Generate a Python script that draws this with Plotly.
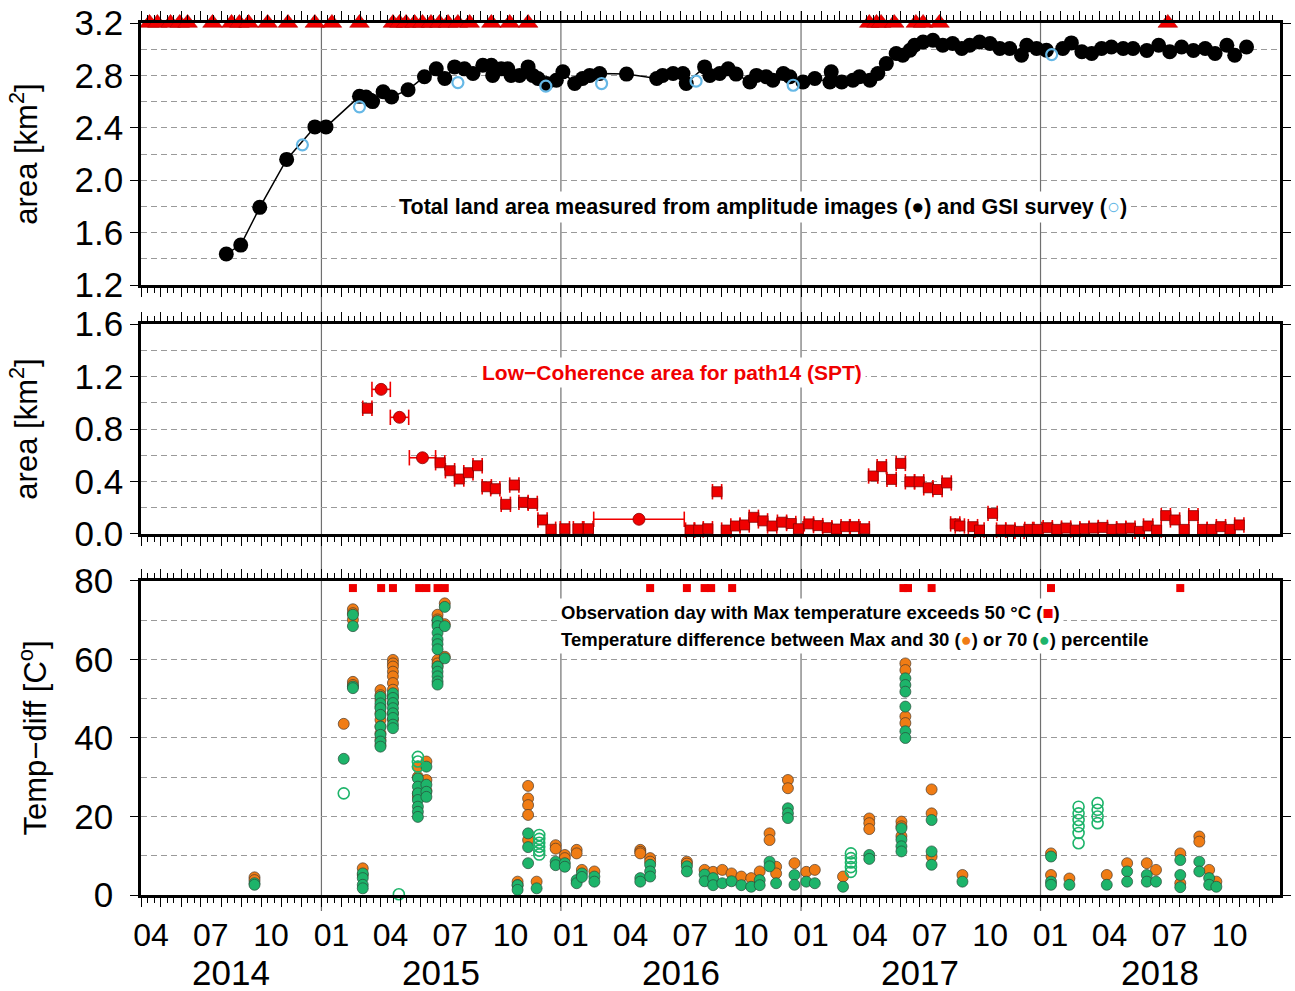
import plotly.graph_objects as go
from datetime import date, timedelta

# ---------------- total land area (km^2) ----------------
area_dates = [
    "2014-08-09", "2014-08-31", "2014-09-29", "2014-11-09", "2014-12-22", "2015-01-08",
    "2015-02-28", "2015-03-10", "2015-03-17", "2015-03-20", "2015-04-05", "2015-04-18",
    "2015-05-13", "2015-06-07", "2015-06-25", "2015-07-08", "2015-07-23", "2015-08-07",
    "2015-08-20", "2015-09-04", "2015-09-17", "2015-09-19", "2015-10-02", "2015-10-12",
    "2015-10-17", "2015-10-30", "2015-11-12", "2015-11-19", "2015-11-27", "2015-12-10",
    "2015-12-25", "2016-01-04", "2016-01-22", "2016-02-03", "2016-02-14", "2016-02-29",
    "2016-04-10", "2016-05-26", "2016-06-04", "2016-06-20", "2016-07-05", "2016-07-10",
    "2016-08-07", "2016-08-15", "2016-08-30", "2016-09-12", "2016-09-24", "2016-10-15",
    "2016-10-25", "2016-11-09", "2016-11-19", "2016-12-05", "2016-12-15", "2017-01-04",
    "2017-01-22", "2017-02-14", "2017-02-16", "2017-03-04", "2017-03-21", "2017-03-31",
    "2017-04-16", "2017-04-28", "2017-05-11", "2017-05-26", "2017-06-05", "2017-06-16",
    "2017-06-23", "2017-07-06", "2017-07-21", "2017-08-05", "2017-08-20", "2017-09-03",
    "2017-09-15", "2017-09-30", "2017-10-16", "2017-10-31", "2017-11-15", "2017-12-03",
    "2017-12-11", "2017-12-26", "2018-01-10", "2018-02-04", "2018-02-17", "2018-03-05",
    "2018-03-20", "2018-04-04", "2018-04-19", "2018-05-07", "2018-05-22", "2018-06-12",
    "2018-06-30", "2018-07-17", "2018-08-04", "2018-08-22", "2018-09-09", "2018-09-24",
    "2018-10-12", "2018-10-24", "2018-11-11",
]
area_km2 = [
    1.437, 1.505, 1.793, 2.159, 2.407, 2.407,
    2.640, 2.635, 2.610, 2.600, 2.675, 2.635,
    2.690, 2.790, 2.850, 2.776, 2.865, 2.850,
    2.815, 2.878, 2.878, 2.800, 2.850, 2.850,
    2.800, 2.800, 2.865, 2.800, 2.776, 2.738,
    2.763, 2.827, 2.738, 2.776, 2.800, 2.814,
    2.810, 2.776, 2.800, 2.814, 2.814, 2.738,
    2.865, 2.800, 2.814, 2.850, 2.810, 2.750,
    2.800, 2.790, 2.763, 2.814, 2.790, 2.750,
    2.776, 2.750, 2.827, 2.750, 2.763, 2.790,
    2.763, 2.814, 2.890, 2.967, 2.954, 2.992,
    3.030, 3.055, 3.068, 3.030, 3.043, 3.005,
    3.030, 3.055, 3.043, 3.005, 3.005, 2.954,
    3.030, 3.005, 2.992, 3.005, 3.048, 2.980,
    2.967, 3.005, 3.017, 3.005, 3.005, 2.990,
    3.030, 2.980, 3.017, 2.990, 3.005, 2.967,
    3.030, 2.954, 3.017,
]

# GSI survey
gsi_dates = ["2014-12-03", "2015-02-28", "2015-07-28", "2015-12-09",
             "2016-03-03", "2016-07-25", "2016-12-20", "2018-01-18"]
gsi_km2 = [2.27, 2.56, 2.745, 2.718, 2.738, 2.756, 2.725, 2.959]

# eruption days
eruption_dates = [
    "2014-04-14", "2014-04-26", "2014-05-16", "2014-05-30", "2014-06-11", "2014-07-19",
    "2014-08-17", "2014-08-29", "2014-09-12", "2014-10-11", "2014-11-11", "2014-12-22",
    "2015-01-17", "2015-02-28", "2015-04-20", "2015-04-30", "2015-05-10", "2015-05-23",
    "2015-06-04", "2015-06-17", "2015-06-30", "2015-07-13", "2015-07-28", "2015-08-15",
    "2015-09-17", "2015-10-15", "2015-11-12", "2017-04-15", "2017-04-26", "2017-05-03",
    "2017-05-23", "2017-06-25", "2017-07-06", "2017-07-31", "2018-07-14",
]

# ---------------- low-coherence area, path14 (SPT) ----------------
lc_dates = [
    "2015-03-12", "2015-04-02", "2015-04-30", "2015-06-04", "2015-07-01", "2015-07-16",
    "2015-07-30", "2015-08-13", "2015-08-27", "2015-09-10", "2015-09-23", "2015-10-09",
    "2015-10-22", "2015-11-05", "2015-11-19", "2015-12-04", "2015-12-17",
    "2016-01-07", "2016-01-27", "2016-02-12", "2016-04-29", "2016-07-16", "2016-07-29",
    "2016-08-12", "2016-08-26", "2016-09-09", "2016-09-23", "2016-10-07", "2016-10-21",
    "2016-11-04", "2016-11-18", "2016-12-03", "2016-12-17", "2016-12-28",
    "2017-01-13", "2017-01-27", "2017-02-10", "2017-02-24", "2017-03-10", "2017-03-23",
    "2017-04-08", "2017-04-21", "2017-05-04", "2017-05-19", "2017-06-02", "2017-06-16",
    "2017-06-30", "2017-07-14", "2017-07-28", "2017-08-11", "2017-08-24", "2017-08-31",
    "2017-09-20", "2017-09-30", "2017-10-20", "2017-11-02", "2017-11-16", "2017-11-30",
    "2017-12-15", "2017-12-27",
    "2018-01-12", "2018-01-26", "2018-02-09", "2018-02-23", "2018-03-09", "2018-03-23",
    "2018-04-06", "2018-04-20", "2018-05-04", "2018-05-18", "2018-06-01", "2018-06-14",
    "2018-06-27", "2018-07-11", "2018-07-25", "2018-08-08", "2018-08-22", "2018-09-05",
    "2018-09-19", "2018-10-03", "2018-10-17", "2018-10-31",
]
lc_km2 = [
    0.958, 1.102, 0.889, 0.581, 0.543, 0.482,
    0.419, 0.467, 0.520, 0.360, 0.345, 0.226,
    0.373, 0.241, 0.233, 0.107, 0.036,
    0.040, 0.040, 0.040, 0.112, 0.030, 0.030,
    0.040, 0.322, 0.030, 0.061, 0.069, 0.127,
    0.100, 0.061, 0.090, 0.080, 0.040,
    0.077, 0.064, 0.048, 0.038, 0.056, 0.056,
    0.040, 0.442, 0.513, 0.416, 0.538, 0.398,
    0.398, 0.352, 0.339, 0.389, 0.077, 0.061,
    0.056, 0.030, 0.157, 0.030, 0.030, 0.020,
    0.035, 0.035,
    0.048, 0.035, 0.045, 0.030, 0.040, 0.045,
    0.050, 0.035, 0.040, 0.045, 0.020, 0.061,
    0.030, 0.140, 0.107, 0.035, 0.140, 0.035,
    0.035, 0.056, 0.035, 0.069,
]
# half of the pair interval (days)
lc_halfspan_days = [
    7, 14, 14, 20, 7, 7,
    7, 7, 7, 7, 7, 7,
    7, 7, 7, 7, 7,
    7, 7, 7, 69, 7, 7,
    7, 7, 7, 7, 7, 7,
    7, 7, 7, 7, 7,
    7, 7, 7, 7, 7, 7,
    7, 7, 7, 7, 7, 7,
    7, 7, 7, 7, 7, 7,
    7, 7, 7, 7, 7, 7,
    7, 7,
    7, 7, 7, 7, 7, 7,
    7, 7, 7, 7, 7, 7,
    7, 7, 7, 7, 7, 7,
    7, 7, 7, 7,
]

# ---------------- surface temperature ----------------
hot_days = [
    "2015-02-18", "2015-04-02", "2015-04-20", "2015-05-30", "2015-06-10", "2015-06-27",
    "2015-07-08", "2016-05-16", "2016-07-11", "2016-08-07", "2016-08-17", "2016-09-18",
    "2017-06-06", "2017-06-13", "2017-07-19", "2018-01-17", "2018-08-02",
]

temp_dates = [
    "2014-09-21", "2015-02-04", "2015-02-18", "2015-03-05", "2015-04-01", "2015-04-20",
    "2015-05-28", "2015-06-10", "2015-06-27", "2015-07-08", "2015-10-27", "2015-11-12",
    "2015-11-25", "2015-12-24", "2016-01-07", "2016-01-25", "2016-02-02", "2016-02-21",
    "2016-05-01", "2016-05-16", "2016-07-11", "2016-08-07", "2016-08-20", "2016-09-03",
    "2016-09-17", "2016-10-02", "2016-10-17", "2016-10-30", "2016-11-14", "2016-11-24",
    "2016-12-12", "2016-12-22", "2017-01-09", "2017-01-22", "2017-03-06", "2017-04-15",
    "2017-06-03", "2017-06-09", "2017-07-19", "2017-09-04", "2018-01-17", "2018-02-14",
    "2018-04-12", "2018-05-13", "2018-06-12", "2018-06-26", "2018-08-02", "2018-08-31",
    "2018-09-15", "2018-09-26",
]
# Max minus 30th percentile
diff_p30 = [
    [4.5, 3.8], [43.6], [72.8, 71.8, 70.1, 54.3, 53.5], [6.8, 5.1],
    [52.2, 50.9, 49.7, 48.0, 46.3, 44.6, 42.9, 41.2, 39.5, 38.2],
    [59.9, 59.0, 58.2, 56.9, 55.7, 54.0, 52.3, 50.6, 48.9, 46.3, 44.6],
    [32.7, 30.1, 25.9, 25.0], [34.0, 29.3, 26.6],
    [71.4, 70.2, 69.0, 59.9, 59.0, 58.2], [74.3, 69.0, 60.7],
    [3.4, 2.5], [27.8, 24.6, 22.9, 20.4, 14.0], [3.4], [12.7, 11.8], [10.2, 9.4],
    [11.5, 10.6], [6.4], [6.0], [11.5, 11.0, 10.6], [9.4, 8.5], [8.5, 8.0], [6.4],
    [5.9], [6.4], [5.5], [4.7], [4.3], [6.0], [15.7, 14.0], [7.2, 5.5], [29.3, 27.2],
    [8.1], [5.9], [6.4], [4.7], [19.5, 18.3, 16.8], [18.7, 17.5, 15.0],
    [59.0, 57.3, 45.5, 43.8], [26.9, 20.8, 9.8], [5.1], [10.6, 5.1], [4.2], [5.1],
    [8.1], [8.1], [6.4], [10.6, 3.0], [14.9, 13.6], [6.4], [3.4],
]
# Max minus 70th percentile
diff_p70 = [
    [3.0, 2.6], [34.7], [71.4, 68.5, 53.1, 52.7], [5.5, 4.3, 2.6, 1.7],
    [50.5, 48.8, 47.6, 45.9, 42.9, 40.8, 39.1, 37.8],
    [51.4, 50.2, 48.9, 47.6, 46.3, 45.1, 43.4, 42.5],
    [29.7, 27.6, 25.9, 24.2, 22.5, 21.2, 19.9], [32.7, 28.1, 26.3, 25.0],
    [69.8, 68.5, 66.8, 65.1, 63.9, 62.6, 58.2, 56.9, 55.7, 54.4, 53.6],
    [73.4, 68.5, 60.3],
    [2.5, 1.3], [15.7, 12.2, 8.1], [1.7], [8.5, 7.6], [8.1, 7.2], [3.8, 3.0],
    [5.5, 4.6], [4.7, 3.4], [4.3, 3.4], [7.7, 6.0, 4.7], [7.3, 6.0], [5.2, 3.5],
    [4.3, 2.5], [3.0], [3.5], [2.5], [2.1], [3.8, 2.5], [8.5, 7.3], [3.0],
    [22.1, 20.8, 19.6], [5.1, 2.6], [3.4], [3.0], [2.1], [10.2, 9.2],
    [17.0, 14.1, 12.4, 11.1], [55.2, 53.5, 51.8, 48.0, 41.7, 40.0],
    [19.1, 11.1, 7.7], [3.4], [9.8, 3.4, 2.6], [2.6], [2.6], [6.0, 3.4], [5.1, 3.4],
    [3.4], [8.9, 5.1, 2.0], [8.5, 6.0], [4.3, 2.6], [2.1],
]
# 70th percentile values from partly covered scenes
flag_dates = ["2015-02-04", "2015-04-29", "2015-05-28", "2015-11-29",
              "2017-03-18", "2018-02-28", "2018-03-29"]
flag_p70 = [
    [25.9], [0.2], [35.2, 34.0, 32.7], [15.3, 14.3, 13.3, 12.3, 11.3, 10.3],
    [10.6, 9.4, 8.3, 7.1, 5.9], [22.5, 20.8, 19.1, 17.5, 15.8, 13.2],
    [23.4, 21.7, 20.0, 18.3],
]

# ---------------- helpers ----------------
def flatten(dates, groups):
    xs, ys = [], []
    for d, g in zip(dates, groups):
        for v in g:
            xs.append(d)
            ys.append(v)
    return xs, ys


X_START, X_END = "2014-04-01", "2019-01-01"
FONT = "Liberation Sans, Arial, Helvetica, sans-serif"
RED = "#f00000"
ORANGE = "#f07c14"
GREEN = "#1db46a"
SKY = "#66b8e6"
GRID = "#9a9a9a"
PLOT_H = 872  # px height of the stacked plotting area

month_ticks = []
yy, mm = 2014, 4
while (yy, mm) <= (2018, 12):
    month_ticks.append(f"{yy}-{mm:02d}-01")
    mm += 1
    if mm > 12:
        yy, mm = yy + 1, 1
month_text = [t[5:7] if int(t[5:7]) in (1, 4, 7, 10) else "" for t in month_ticks]
minor_ticks = [t[:8] + d for t in month_ticks for d in ("11", "21")]

fig = go.Figure()

# panel 1: land area
fig.add_trace(go.Scatter(
    x=area_dates, y=area_km2, mode="lines+markers", xaxis="x", yaxis="y",
    line=dict(color="black", width=1.5),
    marker=dict(color="black", size=15, line=dict(color="black", width=0)),
    showlegend=False, cliponaxis=False))
fig.add_trace(go.Scatter(
    x=gsi_dates, y=gsi_km2, mode="markers", xaxis="x", yaxis="y",
    marker=dict(symbol="circle-open", color=SKY, size=11, line=dict(width=2.2)),
    showlegend=False))
fig.add_trace(go.Scatter(
    x=eruption_dates, y=[3.2] * len(eruption_dates), mode="markers", xaxis="x", yaxis="y",
    marker=dict(symbol="triangle-up", color=RED, size=17, line=dict(color="#b00000", width=0.6)),
    showlegend=False, cliponaxis=False))
fig.add_trace(go.Scatter(
    x=eruption_dates, y=[3.285] * len(eruption_dates), mode="markers", xaxis="x", yaxis="y",
    marker=dict(symbol="line-ne", color=RED, size=9, line=dict(color=RED, width=2)),
    showlegend=False, cliponaxis=False))

# panel 2: low-coherence area, each value spanning its pair interval
bar_x, bar_y, cap_x, cap_y = [], [], [], []
for d, v, h in zip(lc_dates, lc_km2, lc_halfspan_days):
    c = date.fromisoformat(d)
    a = (c - timedelta(days=h)).isoformat()
    b = (c + timedelta(days=h)).isoformat()
    bar_x += [a, b, None]
    bar_y += [v, v, None]
    cap_x += [a, b]
    cap_y += [v, v]
fig.add_trace(go.Scatter(
    x=bar_x, y=bar_y, mode="lines", xaxis="x2", yaxis="y2",
    line=dict(color=RED, width=1.6), showlegend=False, cliponaxis=False))
fig.add_trace(go.Scatter(
    x=cap_x, y=cap_y, mode="markers", xaxis="x2", yaxis="y2",
    marker=dict(symbol="line-ns", size=11, color=RED, line=dict(color=RED, width=1.6)),
    showlegend=False, cliponaxis=False))
lc_symbols = ["circle" if d > 10 else "square" for d in lc_halfspan_days]
lc_sizes = [12 if d > 10 else 10 for d in lc_halfspan_days]
fig.add_trace(go.Scatter(
    x=lc_dates, y=lc_km2, mode="markers", xaxis="x2", yaxis="y2",
    marker=dict(symbol=lc_symbols, size=lc_sizes, color=RED, opacity=1,
                line=dict(color="#8a0000", width=0.8)),
    showlegend=False, cliponaxis=False))

# panel 3: temperature differences
fig.add_trace(go.Scatter(
    x=hot_days, y=[78.2] * len(hot_days), mode="markers", xaxis="x3", yaxis="y3",
    marker=dict(symbol="square", size=8, color=RED, line=dict(width=0)),
    showlegend=False))
ox, oy = flatten(temp_dates, diff_p30)
fig.add_trace(go.Scatter(
    x=ox, y=oy, mode="markers", xaxis="x3", yaxis="y3",
    marker=dict(color=ORANGE, size=11, line=dict(color="#4a3a2a", width=0.7)),
    showlegend=False, cliponaxis=False))
gx, gy = flatten(temp_dates, diff_p70)
fig.add_trace(go.Scatter(
    x=gx, y=gy, mode="markers", xaxis="x3", yaxis="y3",
    marker=dict(color=GREEN, size=11, line=dict(color="#2a4a3a", width=0.7)),
    showlegend=False, cliponaxis=False))
fx, fy = flatten(flag_dates, flag_p70)
fig.add_trace(go.Scatter(
    x=fx, y=fy, mode="markers", xaxis="x3", yaxis="y3",
    marker=dict(symbol="circle-open", color=GREEN, size=11, line=dict(width=1.6)),
    showlegend=False, cliponaxis=False))

# ---------------- axes ----------------
def x_axis(anchor, labels):
    ax = dict(
        type="date", range=[X_START, X_END], anchor=anchor,
        tickmode="array", tickvals=month_ticks, ticktext=month_text,
        ticks="outside", ticklen=9, tickwidth=1.2, tickcolor="black",
        showline=True, linewidth=2.5, linecolor="black", mirror="ticks",
        showgrid=False, zeroline=False, showticklabels=labels,
        tickfont=dict(family=FONT, size=32, color="black"),
        ticklabelshift=10, ticklabelstandoff=1,
        minor=dict(tickmode="array", tickvals=minor_ticks, ticks="outside",
                   ticklen=5, tickwidth=1, tickcolor="black", showgrid=False),
    )
    if anchor != "y3":
        ax["matches"] = "x3"
    return ax


def y_axis(domain, rng, dtick, minor_dtick, fmt, title, anchor, label_gap, title_gap):
    return dict(
        domain=domain, range=rng, anchor=anchor,
        tickmode="linear", tick0=rng[0], dtick=dtick, tickformat=fmt,
        ticks="outside", ticklen=8, tickwidth=1.2, tickcolor="black",
        showline=True, linewidth=2.5, linecolor="black", mirror="ticks",
        showgrid=True, gridcolor=GRID, griddash="6px,4px", gridwidth=1,
        zeroline=False,
        tickfont=dict(family=FONT, size=35, color="black"),
        ticklabelstandoff=label_gap,
        title=dict(text=title, font=dict(family=FONT, size=31, color="black"), standoff=title_gap),
        minor=dict(dtick=minor_dtick, tick0=rng[0], showgrid=True, gridcolor=GRID,
                   griddash="6px,4px", gridwidth=1, ticks=""),
    )


ya1 = y_axis([0.6995, 1.0], [1.2, 3.2], 0.4, 0.2, ".1f", "area [km<sup>2</sup>]", "x", 0, 28)
ya2 = y_axis([0.4140, 0.6548], [0, 1.6], 0.4, 0.2, ".1f", "area [km<sup>2</sup>]", "x2", 0, 28)
ya3 = y_axis([0.0, 0.3601], [0, 80], 20, 10, "d", "Temp\u2212diff [C<sup>o</sup>]", "x3", 10, 19)

# year separators
shapes = []
for yr in (2015, 2016, 2017, 2018):
    shapes.append(dict(type="line", xref="x3", yref="paper",
                       x0=f"{yr}-01-01", x1=f"{yr}-01-01", y0=-16 / PLOT_H, y1=1 + 12 / PLOT_H,
                       line=dict(color="#707070", width=1.2), layer="below"))

# year labels centred on the visible part of each year
annotations = []
lo, hi = date.fromisoformat(X_START), date.fromisoformat(X_END)
for yr in range(2014, 2019):
    a = max(date(yr, 1, 1), lo)
    b = min(date(yr + 1, 1, 1), hi)
    mid = a + (b - a) / 2
    annotations.append(dict(text=str(yr), x=mid.isoformat(), xref="x3",
                            y=-77 / PLOT_H, yref="paper",
                            showarrow=False, xanchor="center", yanchor="middle", borderpad=0,
                            font=dict(family=FONT, size=35, color="black")))

annotations += [
    dict(text="Total land area measured from amplitude images (\u25cf) and GSI survey "
              f"(<span style='color:{SKY}'>\u25cb</span>)",
         x=0.546, xref="paper", y=1.795, yref="y", showarrow=False,
         xanchor="center", yanchor="middle", bgcolor="white", borderpad=3,
         font=dict(family=FONT, size=21.5, color="black", weight="bold")),
    dict(text="Low\u2212Coherence area for path14 (SPT)",
         x=0.466, xref="paper", y=1.234, yref="y2", showarrow=False,
         xanchor="center", yanchor="middle", bgcolor="white", borderpad=3,
         font=dict(family=FONT, size=21, color=RED, weight="bold")),
    dict(text=f"Observation day with Max temperature exceeds 50 \u00b0C (<span style='color:{RED}'>\u25a0</span>)",
         x=0.365, xref="paper", y=71.9, yref="y3", showarrow=False,
         xanchor="left", yanchor="middle", bgcolor="white", borderpad=3,
         font=dict(family=FONT, size=18.5, color="black", weight="bold")),
    dict(text=f"Temperature difference between Max and 30 (<span style='color:{ORANGE}'>\u25cf</span>) "
              f"or 70 (<span style='color:{GREEN}'>\u25cf</span>) percentile",
         x=0.365, xref="paper", y=65.0, yref="y3", showarrow=False,
         xanchor="left", yanchor="middle", bgcolor="white", borderpad=3,
         font=dict(family=FONT, size=18.5, color="black", weight="bold")),
]

fig.update_layout(
    width=1295, height=991,
    margin=dict(l=141, r=15, t=23, b=96, autoexpand=False),
    paper_bgcolor="white", plot_bgcolor="rgba(0,0,0,0)",
    xaxis=x_axis("y", False), xaxis2=x_axis("y2", False), xaxis3=x_axis("y3", True),
    yaxis=ya1, yaxis2=ya2, yaxis3=ya3,
    shapes=shapes, annotations=annotations,
    showlegend=False,
)

fig.write_html("out.html")
